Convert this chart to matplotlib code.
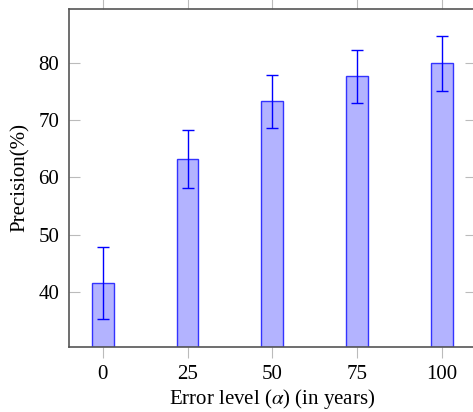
import matplotlib

matplotlib.use("Agg")
import matplotlib.pyplot as plt

plt.rcParams["font.family"] = ["Liberation Serif", "DejaVu Serif"]
plt.rcParams["mathtext.fontset"] = "stix"

# precision per error level, with std-dev error bars
error_levels = [0, 25, 50, 75, 100]
precision = [41.5, 63.2, 73.3, 77.7, 80.0]
precision_err = [6.3, 5.1, 4.6, 4.7, 4.8]

fig = plt.figure(figsize=(4.73, 4.12), dpi=100)
ax = fig.add_axes([69 / 473, 1 - 347 / 412, 406.6 / 473, 338 / 412])

ax.bar(
    error_levels,
    [p - 30.3 for p in precision],
    bottom=30.3,
    width=6.4,
    color="#b3b3ff",
    edgecolor="#3333ff",
    linewidth=1.0,
    zorder=2,
)
ax.errorbar(
    error_levels,
    precision,
    yerr=precision_err,
    fmt="none",
    ecolor="blue",
    elinewidth=1.0,
    capsize=4,
    capthick=1.0,
    zorder=3,
)

ax.set_xlim(-10, 110)
ax.set_ylim(30.3, 89.5)
ax.set_xticks(error_levels)
ax.set_yticks([40, 50, 60, 70, 80])

for spine in ax.spines.values():
    spine.set_color("#555555")
    spine.set_linewidth(1.2)

ax.tick_params(axis="x", direction="out", top=True, length=8, color="#bbbbbb",
               width=0.8, labelsize=15, pad=5)
ax.tick_params(axis="y", direction="in", right=True, length=8, color="#bbbbbb",
               width=0.8, labelsize=15, pad=7)

ax.set_xlabel(r"Error level ($\alpha$) (in years)", fontsize=15, labelpad=2)
ax.set_ylabel("Precision(%)", fontsize=15, labelpad=6)

fig.savefig("out.png", dpi=100)
plt.close(fig)
